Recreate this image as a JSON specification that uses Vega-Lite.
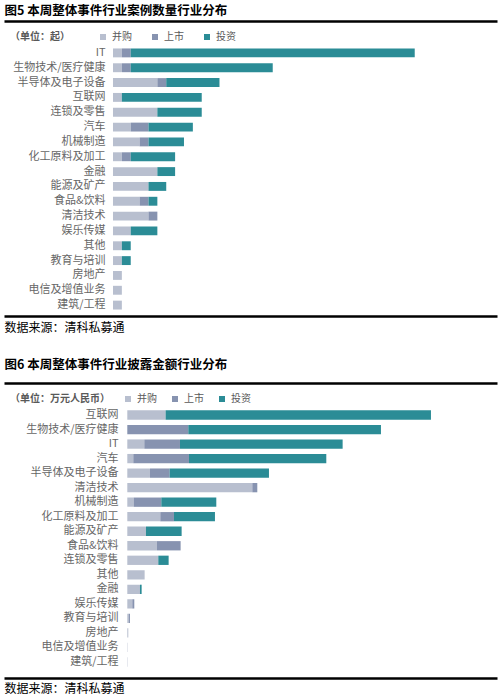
{
  "$schema": "https://vega.github.io/schema/vega-lite/v6.json",
  "padding": {"left": 4, "right": 5, "top": 4, "bottom": 0},
  "spacing": 25,
  "resolve": {"scale": {"color": "independent"}, "legend": {"color": "independent"}},
  "config": {
    "font": "Noto Sans CJK SC",
    "view": {"stroke": null},
    "axis": {"grid": false}
  },
  "datasets": {
    "count": [
      {"industry": "IT", "type": "并购", "value": 1}, {"industry": "IT", "type": "上市", "value": 1}, {"industry": "IT", "type": "投资", "value": 32},
      {"industry": "生物技术/医疗健康", "type": "并购", "value": 1}, {"industry": "生物技术/医疗健康", "type": "上市", "value": 1}, {"industry": "生物技术/医疗健康", "type": "投资", "value": 16},
      {"industry": "半导体及电子设备", "type": "并购", "value": 5}, {"industry": "半导体及电子设备", "type": "上市", "value": 1}, {"industry": "半导体及电子设备", "type": "投资", "value": 6},
      {"industry": "互联网", "type": "并购", "value": 1}, {"industry": "互联网", "type": "投资", "value": 9},
      {"industry": "连锁及零售", "type": "并购", "value": 5}, {"industry": "连锁及零售", "type": "投资", "value": 5},
      {"industry": "汽车", "type": "并购", "value": 2}, {"industry": "汽车", "type": "上市", "value": 2}, {"industry": "汽车", "type": "投资", "value": 5},
      {"industry": "机械制造", "type": "并购", "value": 3}, {"industry": "机械制造", "type": "上市", "value": 1}, {"industry": "机械制造", "type": "投资", "value": 4},
      {"industry": "化工原料及加工", "type": "并购", "value": 1}, {"industry": "化工原料及加工", "type": "上市", "value": 1}, {"industry": "化工原料及加工", "type": "投资", "value": 5},
      {"industry": "金融", "type": "并购", "value": 5}, {"industry": "金融", "type": "投资", "value": 2},
      {"industry": "能源及矿产", "type": "并购", "value": 4}, {"industry": "能源及矿产", "type": "投资", "value": 2},
      {"industry": "食品&饮料", "type": "并购", "value": 3}, {"industry": "食品&饮料", "type": "上市", "value": 1}, {"industry": "食品&饮料", "type": "投资", "value": 1},
      {"industry": "清洁技术", "type": "并购", "value": 4}, {"industry": "清洁技术", "type": "上市", "value": 1},
      {"industry": "娱乐传媒", "type": "并购", "value": 2}, {"industry": "娱乐传媒", "type": "投资", "value": 3},
      {"industry": "其他", "type": "并购", "value": 1}, {"industry": "其他", "type": "投资", "value": 1},
      {"industry": "教育与培训", "type": "并购", "value": 1}, {"industry": "教育与培训", "type": "投资", "value": 1},
      {"industry": "房地产", "type": "并购", "value": 1},
      {"industry": "电信及增值业务", "type": "并购", "value": 1},
      {"industry": "建筑/工程", "type": "并购", "value": 1}
    ],
    "amount": [
      {"industry": "互联网", "type": "并购", "value": 11500}, {"industry": "互联网", "type": "投资", "value": 79600},
      {"industry": "生物技术/医疗健康", "type": "上市", "value": 18300}, {"industry": "生物技术/医疗健康", "type": "投资", "value": 57800},
      {"industry": "IT", "type": "并购", "value": 5100}, {"industry": "IT", "type": "上市", "value": 10700}, {"industry": "IT", "type": "投资", "value": 48800},
      {"industry": "汽车", "type": "并购", "value": 1800}, {"industry": "汽车", "type": "上市", "value": 16700}, {"industry": "汽车", "type": "投资", "value": 41200},
      {"industry": "半导体及电子设备", "type": "并购", "value": 6800}, {"industry": "半导体及电子设备", "type": "上市", "value": 5900}, {"industry": "半导体及电子设备", "type": "投资", "value": 29800},
      {"industry": "清洁技术", "type": "并购", "value": 37500}, {"industry": "清洁技术", "type": "上市", "value": 1500},
      {"industry": "机械制造", "type": "并购", "value": 1900}, {"industry": "机械制造", "type": "上市", "value": 8300}, {"industry": "机械制造", "type": "投资", "value": 16500},
      {"industry": "化工原料及加工", "type": "并购", "value": 9900}, {"industry": "化工原料及加工", "type": "上市", "value": 4100}, {"industry": "化工原料及加工", "type": "投资", "value": 12300},
      {"industry": "能源及矿产", "type": "并购", "value": 5600}, {"industry": "能源及矿产", "type": "投资", "value": 10700},
      {"industry": "食品&饮料", "type": "并购", "value": 8900}, {"industry": "食品&饮料", "type": "上市", "value": 7100},
      {"industry": "连锁及零售", "type": "并购", "value": 9300}, {"industry": "连锁及零售", "type": "投资", "value": 3100},
      {"industry": "其他", "type": "并购", "value": 5200},
      {"industry": "金融", "type": "并购", "value": 3800}, {"industry": "金融", "type": "投资", "value": 500},
      {"industry": "娱乐传媒", "type": "并购", "value": 1500}, {"industry": "娱乐传媒", "type": "上市", "value": 600},
      {"industry": "教育与培训", "type": "并购", "value": 400}, {"industry": "教育与培训", "type": "上市", "value": 400},
      {"industry": "房地产", "type": "并购", "value": 300},
      {"industry": "电信及增值业务", "type": "并购", "value": 100},
      {"industry": "建筑/工程", "type": "并购", "value": 100}
    ]
  },
  "vconcat": [
    {
      "data": {"name": "count"},
      "width": 493,
      "height": 295,
      "layer": [
        {
          "transform": [{"calculate": "indexof(['并购','上市','投资'], datum.type)", "as": "typeOrder"}],
          "mark": {"type": "bar"},
          "encoding": {
            "y": {
              "field": "industry", "type": "nominal",
              "sort": ["IT", "生物技术/医疗健康", "半导体及电子设备", "互联网", "连锁及零售", "汽车", "机械制造", "化工原料及加工", "金融", "能源及矿产", "食品&饮料", "清洁技术", "娱乐传媒", "其他", "教育与培训", "房地产", "电信及增值业务", "建筑/工程"],
              "scale": {"paddingInner": 0.4, "paddingOuter": 0.3, "range": [23, 293]},
              "axis": {"title": null, "orient": "left", "offset": -101, "domain": false, "ticks": false, "labelPadding": 0, "labelFontSize": 11, "labelColor": "#666666"}
            },
            "x": {
              "field": "value", "type": "quantitative", "stack": "zero",
              "scale": {"domain": [-12.28, 43.27], "nice": false, "zero": false},
              "axis": {"orient": "bottom", "title": "数据来源：清科私募通", "titleAnchor": "start", "titleAlign": "left", "titleFontSize": 12, "titleFontWeight": "normal", "titleColor": "#000000", "titlePadding": 6, "labels": false, "ticks": false, "domain": true, "domainColor": "#000000", "domainWidth": 2.5}
            },
            "order": {"field": "typeOrder", "type": "quantitative"},
            "color": {
              "field": "type", "type": "nominal",
              "sort": ["并购", "上市", "投资"],
              "scale": {"domain": ["并购", "上市", "投资"], "range": ["#b8bfcf", "#8793b0", "#2b8c96"]},
              "legend": {"orient": "none", "legendX": 6, "legendY": 11, "direction": "horizontal", "title": "（单位：起）", "titleOrient": "left", "titleFontSize": 10, "titleColor": "#595959", "titleFontWeight": "bold", "titlePadding": 28, "symbolType": "square", "symbolSize": 36, "symbolStrokeWidth": 0, "labelFontSize": 10, "labelColor": "#595959", "labelOffset": 4, "columnPadding": 18}
            }
          }
        },
        {
          "data": {"values": [{}]},
          "mark": {"type": "rule", "opacity": 0},
          "encoding": {
            "x": {
              "datum": 0, "type": "quantitative",
              "axis": {"orient": "top", "title": "图5 本周整体事件行业案例数量行业分布", "titleAnchor": "start", "titleAlign": "left", "titleFontSize": 12.5, "titleFontWeight": "bold", "titleColor": "#000000", "titlePadding": 4, "labels": false, "ticks": false, "domain": true, "domainColor": "#000000", "domainWidth": 2.5}
            }
          }
        }
      ],
      "resolve": {"axis": {"x": "independent"}}
    },
    {
      "data": {"name": "amount"},
      "width": 493,
      "height": 295,
      "layer": [
        {
          "transform": [{"calculate": "indexof(['并购','上市','投资'], datum.type)", "as": "typeOrder"}],
          "mark": {"type": "bar"},
          "encoding": {
            "y": {
              "field": "industry", "type": "nominal",
              "sort": ["互联网", "生物技术/医疗健康", "IT", "汽车", "半导体及电子设备", "清洁技术", "机械制造", "化工原料及加工", "能源及矿产", "食品&饮料", "连锁及零售", "其他", "金融", "娱乐传媒", "教育与培训", "房地产", "电信及增值业务", "建筑/工程"],
              "scale": {"paddingInner": 0.36, "paddingOuter": 0.3, "range": [23, 288]},
              "axis": {"title": null, "orient": "left", "offset": -114, "domain": false, "ticks": false, "labelPadding": 0, "labelFontSize": 11, "labelColor": "#666666"}
            },
            "x": {
              "field": "value", "type": "quantitative", "stack": "zero",
              "scale": {"domain": [-36990, 110910], "nice": false, "zero": false},
              "axis": {"orient": "bottom", "title": "数据来源：清科私募通", "titleAnchor": "start", "titleAlign": "left", "titleFontSize": 12, "titleFontWeight": "normal", "titleColor": "#000000", "titlePadding": 5, "labels": false, "ticks": false, "domain": true, "domainColor": "#000000", "domainWidth": 2.5}
            },
            "order": {"field": "typeOrder", "type": "quantitative"},
            "color": {
              "field": "type", "type": "nominal",
              "sort": ["并购", "上市", "投资"],
              "scale": {"domain": ["并购", "上市", "投资"], "range": ["#b8bfcf", "#8793b0", "#2b8c96"]},
              "legend": {"orient": "none", "legendX": 6, "legendY": 11, "direction": "horizontal", "title": "（单位：万元人民币）", "titleOrient": "left", "titleFontSize": 10, "titleColor": "#595959", "titleFontWeight": "bold", "titlePadding": 13, "symbolType": "square", "symbolSize": 36, "symbolStrokeWidth": 0, "labelFontSize": 10, "labelColor": "#595959", "labelOffset": 4, "columnPadding": 13}
            }
          }
        },
        {
          "data": {"values": [{}]},
          "mark": {"type": "rule", "opacity": 0},
          "encoding": {
            "x": {
              "datum": 0, "type": "quantitative",
              "axis": {"orient": "top", "title": "图6 本周整体事件行业披露金额行业分布", "titleAnchor": "start", "titleAlign": "left", "titleFontSize": 12.5, "titleFontWeight": "bold", "titleColor": "#000000", "titlePadding": 12, "labels": false, "ticks": false, "domain": true, "domainColor": "#000000", "domainWidth": 2.5}
            }
          }
        }
      ],
      "resolve": {"axis": {"x": "independent"}}
    }
  ]
}
